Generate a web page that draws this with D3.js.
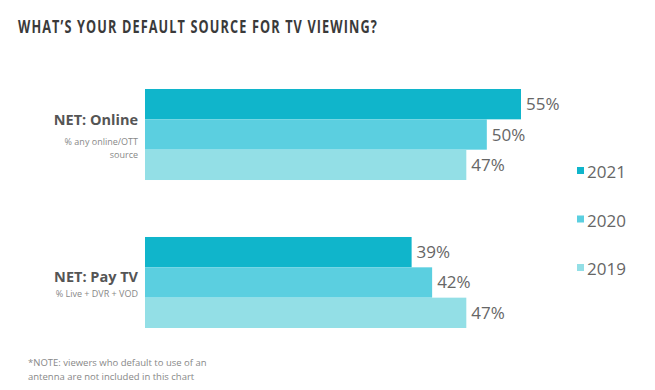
<!DOCTYPE html>
<html>
<head>
<meta charset="utf-8">
<script src="https://cdn.jsdelivr.net/npm/d3@7"></script>
<style>
  body { margin: 0; background: #fff; }
  svg { display: block; }
</style>
</head>
<body>
<svg id="chart" width="655" height="390"></svg>
<script>
const categories = ["NET: Online", "NET: Pay TV"];
const subtitles = [["% any online/OTT", "source"], ["% Live + DVR + VOD"]];
const seriesNames = ["2021", "2020", "2019"];
const values2021 = [55, 39];
const values2020 = [50, 42];
const values2019 = [47, 47];
const colors = ["#10b5cb", "#5bcfe0", "#93dfe6"];
const title = "WHAT\u2019S YOUR DEFAULT SOURCE FOR TV VIEWING?";
const noteLines = ["*NOTE:  viewers who default to use of an", "antenna are not included in this chart"];

const seriesValues = [values2021, values2020, values2019];
const font = "'Open Sans', 'DejaVu Sans', sans-serif";

const svg = d3.select("#chart");

const x = d3.scaleLinear().domain([0, 55]).range([145, 521]);
const y = d3.scaleBand().domain(categories).range([89, 328]).paddingInner(0.385).paddingOuter(0);
const ySub = d3.scaleBand().domain(seriesNames).range([0, y.bandwidth()]);

// Title
svg.append("text")
  .attr("x", 18).attr("y", 33)
  .attr("font-family", font).attr("font-weight", 700).attr("font-size", 17)
  .attr("letter-spacing", 1.5)
  .attr("textLength", 360).attr("lengthAdjust", "spacingAndGlyphs")
  .attr("fill", "#3a3a3a")
  .text(title);

// Bars
const groups = svg.append("g").selectAll("g")
  .data(categories).join("g")
  .attr("transform", d => `translate(0,${y(d)})`);

groups.each(function(cat, ci) {
  const g = d3.select(this);
  seriesNames.forEach((s, si) => {
    const v = seriesValues[si][ci];
    g.append("rect")
      .attr("x", x(0)).attr("y", ySub(s))
      .attr("width", x(v) - x(0)).attr("height", ySub.bandwidth())
      .attr("fill", colors[si]);
    g.append("text")
      .attr("x", x(v) + 5).attr("y", ySub(s) + ySub.bandwidth() / 2 + 6)
      .attr("font-family", font).attr("font-size", 17)
      .attr("fill", "#666")
      .text(v + "%");
  });
  // Category label
  g.append("text")
    .attr("x", 138).attr("y", ci === 0 ? 36 : 45)
    .attr("text-anchor", "end")
    .attr("font-family", font).attr("font-weight", 700).attr("font-size", 14.5)
    .attr("fill", "#555")
    .text(cat);
  subtitles[ci].forEach((t, ti) => {
    g.append("text")
      .attr("x", 138).attr("y", (ci === 0 ? 56 : 60) + ti * 13)
      .attr("text-anchor", "end")
      .attr("font-family", font).attr("font-size", 9)
      .attr("fill", "#888")
      .text(t);
  });
});

// Legend
const legendY = d3.scalePoint().domain(seriesNames).range([178, 275]);
const legend = svg.append("g").selectAll("g").data(seriesNames).join("g")
  .attr("transform", d => `translate(577,${legendY(d)})`);
legend.append("rect")
  .attr("x", 0).attr("y", -11).attr("width", 7).attr("height", 7)
  .attr("fill", (d, i) => colors[i]);
legend.append("text")
  .attr("x", 10).attr("y", 0)
  .attr("font-family", font).attr("font-size", 17)
  .attr("fill", "#666")
  .text(d => d);

// Note
svg.append("g").selectAll("text").data(noteLines).join("text")
  .attr("x", 28).attr("y", (d, i) => 366 + i * 14)
  .attr("font-family", font).attr("font-size", 9.5)
  .attr("fill", "#888")
  .text(d => d);
</script>
</body>
</html>
